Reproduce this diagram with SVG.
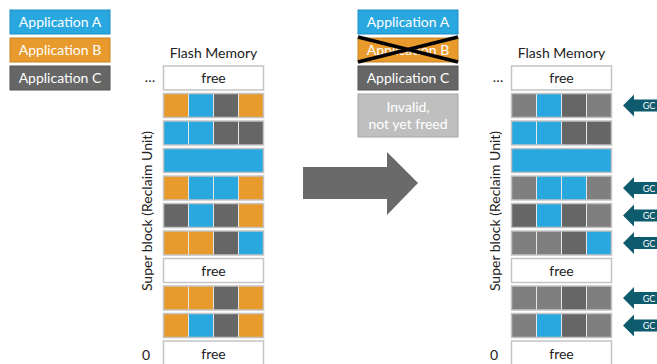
<svg xmlns="http://www.w3.org/2000/svg" width="657" height="364" viewBox="0 0 657 364">
<style>
text{font-family:Lato,"Open Sans","Liberation Sans",sans-serif;}
.lg{font-size:14px;fill:#fff;text-anchor:middle;}
.lbl{font-size:14px;fill:#222;text-anchor:middle;}
.A{fill:#29a8e0;}
.B{fill:#e89b2c;}
.C{fill:#666666;}
.I{fill:#7f7f7f;}
.sep{stroke:#e6e6e6;stroke-width:1;}
.out{fill:none;stroke:#c4c4c4;stroke-width:1.5;}
.free{fill:#fff;stroke:#c4c4c4;stroke-width:1.5;}
.gc{fill:#0f5b6e;}
.gct{font-size:9px;fill:#fff;text-anchor:middle;}
</style>
<defs>
<g id="seps">
<line class="sep" x1="25" y1="0" x2="25" y2="24"/>
<line class="sep" x1="50" y1="0" x2="50" y2="24"/>
<line class="sep" x1="75" y1="0" x2="75" y2="24"/>
</g>
<path id="gcarrow" class="gc" d="M0 0 L11 -11 L11 -6 L34 -6 L34 6 L11 6 L11 11 Z"/>
</defs>

<g id="legend-left">
<g id="legA"><rect x="10" y="10" width="100" height="24" class="A" stroke="#1f8fc4" stroke-width="1"/><text class="lg" x="60" y="27">Application A</text></g>
<g id="legB"><rect x="10" y="38" width="100" height="24" class="B" stroke="#c98322" stroke-width="1"/><text class="lg" x="60" y="55">Application B</text></g>
<g id="legC"><rect x="10" y="66" width="100" height="24" class="C" stroke="#555" stroke-width="1"/><text class="lg" x="60" y="83">Application C</text></g>
</g>

<g id="legend-mid">
<g id="legA2"><rect x="358" y="10" width="100" height="24" class="A" stroke="#1f8fc4" stroke-width="1"/><text class="lg" x="408" y="27">Application A</text></g>
<g id="legB2"><rect x="358" y="38" width="100" height="24" class="B" stroke="#c98322" stroke-width="1"/><text class="lg" x="408" y="55">Application B</text>
<line x1="358" y1="37" x2="458" y2="62" stroke="#000" stroke-width="3.5"/>
<line x1="358" y1="62" x2="458" y2="37" stroke="#000" stroke-width="3.5"/></g>
<g id="legC2"><rect x="358" y="66" width="100" height="24" class="C" stroke="#555" stroke-width="1"/><text class="lg" x="408" y="83">Application C</text></g>
<g id="legI"><rect x="358" y="94" width="100" height="43" fill="#bfbfbf" stroke="#a8a8a8" stroke-width="1"/><text class="lg" x="408" y="112">Invalid,</text><text class="lg" x="408" y="129">not yet freed</text></g>
</g>

<g id="memory-left">
<text class="lbl" x="213.5" y="58">Flash Memory</text>
<text class="lbl" x="150" y="82">…</text>
<text class="lbl" x="146" y="360">0</text>
<text class="lbl" transform="translate(152,211) rotate(-90)">Super block (Reclaim Unit)</text>
<g transform="translate(163.5,0)">
<g transform="translate(0,66)"><rect class="free" width="100" height="24"/><text class="lbl" x="50" y="17">free</text></g>
<g transform="translate(0,93.5)"><rect class="B" width="25" height="24"/><rect class="A" x="25" width="25" height="24"/><rect class="C" x="50" width="25" height="24"/><rect class="B" x="75" width="25" height="24"/><use href="#seps"/><rect class="out" width="100" height="24"/></g>
<g transform="translate(0,121)"><rect class="A" width="25" height="24"/><rect class="A" x="25" width="25" height="24"/><rect class="C" x="50" width="25" height="24"/><rect class="C" x="75" width="25" height="24"/><use href="#seps"/><rect class="out" width="100" height="24"/></g>
<g transform="translate(0,148.5)"><rect class="A" width="100" height="24"/><rect class="out" width="100" height="24"/></g>
<g transform="translate(0,176)"><rect class="B" width="25" height="24"/><rect class="A" x="25" width="25" height="24"/><rect class="A" x="50" width="25" height="24"/><rect class="B" x="75" width="25" height="24"/><use href="#seps"/><rect class="out" width="100" height="24"/></g>
<g transform="translate(0,203.5)"><rect class="C" width="25" height="24"/><rect class="A" x="25" width="25" height="24"/><rect class="C" x="50" width="25" height="24"/><rect class="B" x="75" width="25" height="24"/><use href="#seps"/><rect class="out" width="100" height="24"/></g>
<g transform="translate(0,231)"><rect class="B" width="25" height="24"/><rect class="B" x="25" width="25" height="24"/><rect class="C" x="50" width="25" height="24"/><rect class="A" x="75" width="25" height="24"/><use href="#seps"/><rect class="out" width="100" height="24"/></g>
<g transform="translate(0,258.5)"><rect class="free" width="100" height="24"/><text class="lbl" x="50" y="17">free</text></g>
<g transform="translate(0,286)"><rect class="B" width="25" height="24"/><rect class="B" x="25" width="25" height="24"/><rect class="C" x="50" width="25" height="24"/><rect class="B" x="75" width="25" height="24"/><use href="#seps"/><rect class="out" width="100" height="24"/></g>
<g transform="translate(0,313.5)"><rect class="B" width="25" height="24"/><rect class="A" x="25" width="25" height="24"/><rect class="C" x="50" width="25" height="24"/><rect class="B" x="75" width="25" height="24"/><use href="#seps"/><rect class="out" width="100" height="24"/></g>
<g transform="translate(0,341)"><rect class="free" width="100" height="26"/><text class="lbl" x="50" y="18">free</text></g>
</g>
</g>

<g id="memory-right">
<text class="lbl" x="561.5" y="58">Flash Memory</text>
<text class="lbl" x="498" y="82">…</text>
<text class="lbl" x="494" y="360">0</text>
<text class="lbl" transform="translate(500,211) rotate(-90)">Super block (Reclaim Unit)</text>
<g transform="translate(511.5,0)">
<g transform="translate(0,66)"><rect class="free" width="100" height="24"/><text class="lbl" x="50" y="17">free</text></g>
<g transform="translate(0,93.5)"><rect class="I" width="25" height="24"/><rect class="A" x="25" width="25" height="24"/><rect class="C" x="50" width="25" height="24"/><rect class="I" x="75" width="25" height="24"/><use href="#seps"/><rect class="out" width="100" height="24"/></g>
<g transform="translate(0,121)"><rect class="A" width="25" height="24"/><rect class="A" x="25" width="25" height="24"/><rect class="C" x="50" width="25" height="24"/><rect class="C" x="75" width="25" height="24"/><use href="#seps"/><rect class="out" width="100" height="24"/></g>
<g transform="translate(0,148.5)"><rect class="A" width="100" height="24"/><rect class="out" width="100" height="24"/></g>
<g transform="translate(0,176)"><rect class="I" width="25" height="24"/><rect class="A" x="25" width="25" height="24"/><rect class="A" x="50" width="25" height="24"/><rect class="I" x="75" width="25" height="24"/><use href="#seps"/><rect class="out" width="100" height="24"/></g>
<g transform="translate(0,203.5)"><rect class="C" width="25" height="24"/><rect class="A" x="25" width="25" height="24"/><rect class="C" x="50" width="25" height="24"/><rect class="I" x="75" width="25" height="24"/><use href="#seps"/><rect class="out" width="100" height="24"/></g>
<g transform="translate(0,231)"><rect class="I" width="25" height="24"/><rect class="I" x="25" width="25" height="24"/><rect class="C" x="50" width="25" height="24"/><rect class="A" x="75" width="25" height="24"/><use href="#seps"/><rect class="out" width="100" height="24"/></g>
<g transform="translate(0,258.5)"><rect class="free" width="100" height="24"/><text class="lbl" x="50" y="17">free</text></g>
<g transform="translate(0,286)"><rect class="I" width="25" height="24"/><rect class="I" x="25" width="25" height="24"/><rect class="C" x="50" width="25" height="24"/><rect class="I" x="75" width="25" height="24"/><use href="#seps"/><rect class="out" width="100" height="24"/></g>
<g transform="translate(0,313.5)"><rect class="I" width="25" height="24"/><rect class="A" x="25" width="25" height="24"/><rect class="C" x="50" width="25" height="24"/><rect class="I" x="75" width="25" height="24"/><use href="#seps"/><rect class="out" width="100" height="24"/></g>
<g transform="translate(0,341)"><rect class="free" width="100" height="26"/><text class="lbl" x="50" y="18">free</text></g>
</g>
</g>

<g id="connectors">
<polygon id="big-arrow" points="303,167 387,167 387,152 418,183 387,215 387,199 303,199" fill="#6a6a6a"/>
<g id="gc-arrows">
<g transform="translate(623,105.5)"><use href="#gcarrow"/><text class="gct" x="26" y="3.5">GC</text></g>
<g transform="translate(623,188)"><use href="#gcarrow"/><text class="gct" x="26" y="3.5">GC</text></g>
<g transform="translate(623,215.5)"><use href="#gcarrow"/><text class="gct" x="26" y="3.5">GC</text></g>
<g transform="translate(623,243)"><use href="#gcarrow"/><text class="gct" x="26" y="3.5">GC</text></g>
<g transform="translate(623,298)"><use href="#gcarrow"/><text class="gct" x="26" y="3.5">GC</text></g>
<g transform="translate(623,325.5)"><use href="#gcarrow"/><text class="gct" x="26" y="3.5">GC</text></g>
</g>
</g>
</svg>
